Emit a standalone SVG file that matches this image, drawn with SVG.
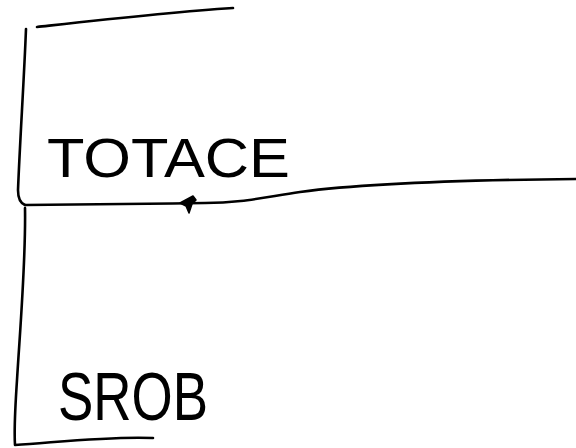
<svg xmlns="http://www.w3.org/2000/svg" width="576" height="448" viewBox="0 0 576 448">
<style>
.ink{fill:none;stroke:#000;stroke-width:2.6;stroke-linecap:round;stroke-linejoin:round}
.lbl{font-family:"Liberation Sans","DejaVu Sans",sans-serif;font-weight:normal;fill:#000}
</style>
<rect width="576" height="448" fill="#fff"/>
<g id="node-totace">
<path class="ink" d="M37,27 C100,20 170,12 233,8"/>
<path class="ink" d="M26,29 C24,80 20,140 18,190 C18,198 20,203 25,205"/>
<text class="lbl" x="47" y="177" font-size="56" textLength="243" lengthAdjust="spacingAndGlyphs">TOTACE</text>
</g>
<g id="node-srob">
<path class="ink" d="M25,208 C26,260 20,330 17,380 C15,410 14,430 15,445 C60,442 110,436 153,438"/>
<text class="lbl" x="58" y="420" font-size="68" textLength="150" lengthAdjust="spacingAndGlyphs">SROB</text>
</g>
<g id="connectors">
<path class="ink" d="M576,179 C460,180 360,184 300,192 C260,198 240,203 205,203 C140,204 70,204 25,205"/>
<path d="M180,203 L193,196 L196,200 L192,204 L189,213 L186,206 Z" fill="#000" stroke="#000" stroke-width="1.5" stroke-linejoin="round"/>
</g>
</svg>
